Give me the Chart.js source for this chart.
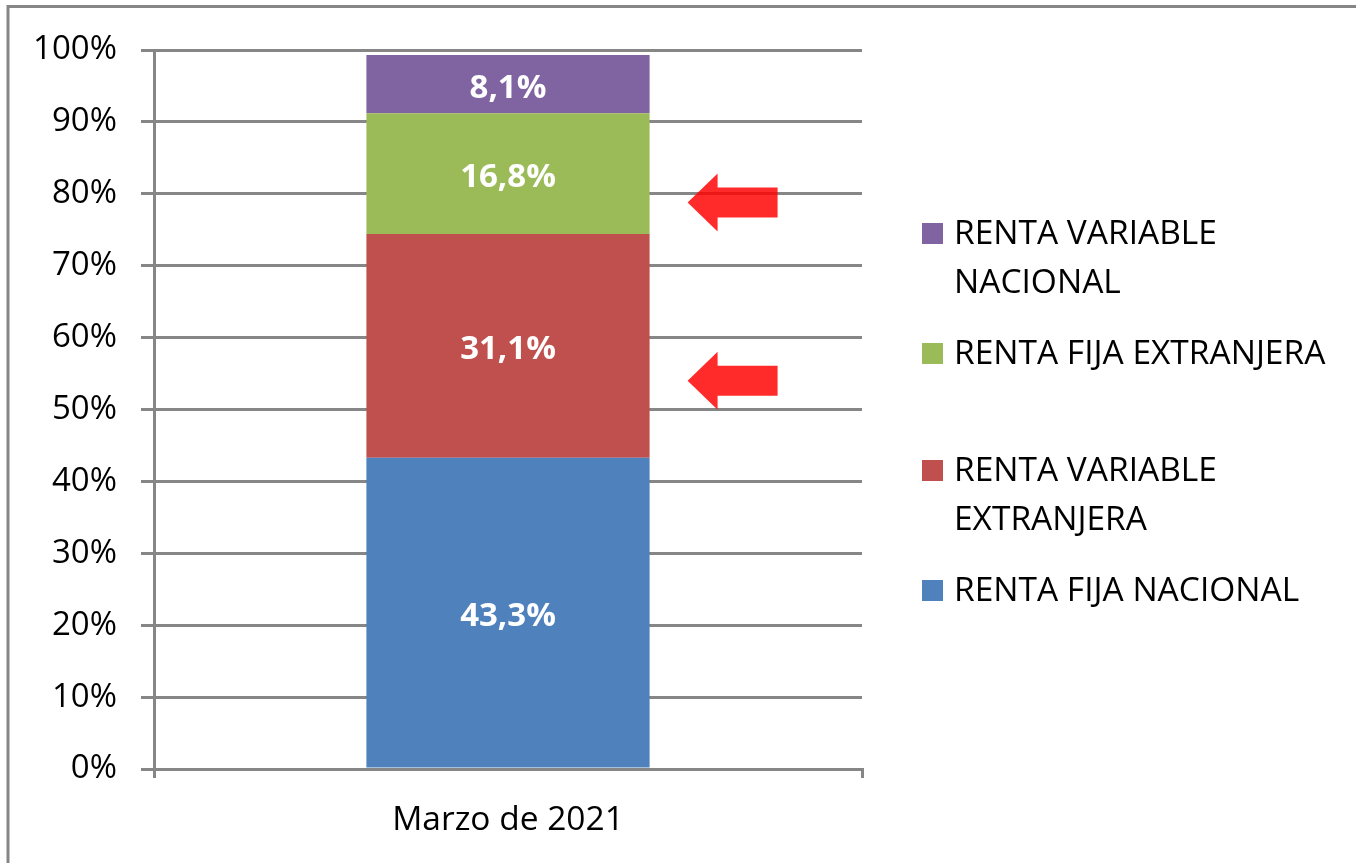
<!DOCTYPE html>
<html>
<head>
<meta charset="utf-8">
<script src="https://cdn.jsdelivr.net/npm/chart.js@4/dist/chart.umd.min.js"></script>
<style>
  html, body { margin: 0; padding: 0; background: #fff; }
  #wrap { position: relative; width: 1356px; height: 863px; }
</style>
</head>
<body>
<div id="wrap"><canvas id="chart"></canvas></div>
<script>
// Data
const categories = ['Marzo de 2021'];
const seriesLabels = ['RENTA FIJA NACIONAL', 'RENTA VARIABLE EXTRANJERA', 'RENTA FIJA EXTRANJERA', 'RENTA VARIABLE NACIONAL'];
const rentaFijaNacional = [43.3];
const rentaVariableExtranjera = [31.1];
const rentaFijaExtranjera = [16.8];
const rentaVariableNacional = [8.1];
const seriesColors = ['#4F81BD', '#C0504D', '#9BBB59', '#8064A2'];
const yTickStep = 10;
const yMax = 100;
// levels (%) the red arrows point at
const arrowTargets = [78.8, 54.0];

const FONT = "'Open Sans', sans-serif";
const GRID = '#868686';

Chart.defaults.font.family = FONT;
Chart.defaults.color = '#000';

function fmt(v) {
    return v.toFixed(1).replace('.', ',') + '%';
}

// Frame of the picture (top and left edges only)
const framePlugin = {
    id: 'frame',
    beforeDraw(chart) {
        const ctx = chart.ctx;
        ctx.save();
        ctx.strokeStyle = GRID;
        ctx.lineWidth = 3;
        ctx.beginPath();
        ctx.moveTo(8, chart.height);
        ctx.lineTo(8, 6.5);
        ctx.lineTo(chart.width, 6.5);
        ctx.stroke();
        ctx.restore();
    }
};

// Values inside the segments
const valueLabels = {
    id: 'valueLabels',
    afterDatasetsDraw(chart) {
        const ctx = chart.ctx;
        ctx.save();
        ctx.font = 'bold 33px ' + FONT;
        ctx.fillStyle = '#fff';
        ctx.textAlign = 'center';
        ctx.textBaseline = 'middle';
        chart.data.datasets.forEach((ds, i) => {
            chart.getDatasetMeta(i).data.forEach((bar, j) => {
                const yc = (bar.y + bar.base) / 2;
                ctx.fillText(fmt(ds.data[j]), bar.x, yc + 4);
            });
        });
        ctx.restore();
    }
};

// Red arrows
const arrows = {
    id: 'arrows',
    afterDraw(chart) {
        const ctx = chart.ctx;
        const yScale = chart.scales.y;
        const bar = chart.getDatasetMeta(0).data[0];
        const tipX = bar.x + bar.width / 2 + 38;
        ctx.save();
        ctx.fillStyle = 'rgba(255, 0, 0, 0.83)';
        arrowTargets.forEach(v => {
            const y = yScale.getPixelForValue(v);
            ctx.beginPath();
            ctx.moveTo(tipX, y);
            ctx.lineTo(tipX + 30, y - 29);
            ctx.lineTo(tipX + 30, y - 15);
            ctx.lineTo(tipX + 90, y - 15);
            ctx.lineTo(tipX + 90, y + 15);
            ctx.lineTo(tipX + 30, y + 15);
            ctx.lineTo(tipX + 30, y + 29);
            ctx.closePath();
            ctx.fill();
        });
        ctx.restore();
    }
};

// Legend on the right, top item = last series
const legendRows = [234, 354, 471, 591];
const sideLegend = {
    id: 'sideLegend',
    afterDraw(chart) {
        const ctx = chart.ctx;
        const x0 = 922;
        const textX = 954;
        const lineH = 49;
        ctx.save();
        ctx.font = '33.5px ' + FONT;
        ctx.textBaseline = 'middle';
        ctx.textAlign = 'left';
        const items = chart.data.datasets.slice().reverse();
        items.forEach((ds, k) => {
            const y = legendRows[k];
            ctx.fillStyle = ds.backgroundColor;
            ctx.fillRect(x0, y - 11, 21, 21);
            // wrap words
            const words = ds.label.split(' ');
            const lines = [];
            let cur = '';
            words.forEach(w => {
                const test = cur ? cur + ' ' + w : w;
                if (ctx.measureText(test).width > 395 && cur) {
                    lines.push(cur);
                    cur = w;
                } else {
                    cur = test;
                }
            });
            lines.push(cur);
            ctx.fillStyle = '#000';
            lines.forEach((ln, li) => ctx.fillText(ln, textX, y + li * lineH));
        });
        ctx.restore();
    }
};

const seriesData = [rentaFijaNacional, rentaVariableExtranjera, rentaFijaExtranjera, rentaVariableNacional];

new Chart(document.getElementById('chart'), {
    type: 'bar',
    data: {
        labels: categories,
        datasets: seriesLabels.map((label, i) => ({
            label: label,
            data: seriesData[i],
            backgroundColor: seriesColors[i],
            borderWidth: 0,
            barPercentage: 0.4,
            categoryPercentage: 1.0
        }))
    },
    options: {
        responsive: true,
        maintainAspectRatio: false,
        animation: false,
        layout: { padding: { left: 0, top: 50, right: 494, bottom: 0 } },
        plugins: {
            legend: { display: false },
            tooltip: { enabled: false }
        },
        scales: {
            x: {
                stacked: true,
                offset: true,
                grid: {
                    offset: true,
                    drawOnChartArea: false,
                    drawTicks: true,
                    tickLength: 9,
                    color: GRID,
                    lineWidth: 3
                },
                border: { color: GRID, width: 3 },
                ticks: { font: { size: 33.5 }, color: '#000', padding: 22 },
                afterFit(scale) { scale.height = 94; }
            },
            y: {
                stacked: true,
                min: 0,
                max: yMax,
                ticks: {
                    stepSize: yTickStep,
                    font: { size: 33 },
                    color: '#000',
                    padding: 24,
                    callback: v => v + '%'
                },
                grid: {
                    color: GRID,
                    lineWidth: 3,
                    tickLength: 13
                },
                border: { color: GRID, width: 3 },
                afterFit(scale) { scale.width = 154; }
            }
        }
    },
    plugins: [framePlugin, valueLabels, arrows, sideLegend]
});
</script>
</body>
</html>
